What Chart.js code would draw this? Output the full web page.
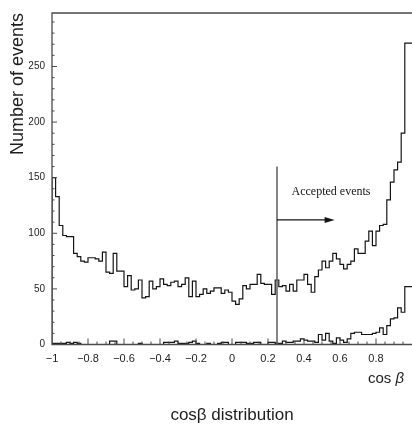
<!DOCTYPE html>
<html>
<head>
<meta charset="utf-8">
<title>cosβ distribution</title>
<script src="https://cdn.jsdelivr.net/npm/chart.js@4.4.1/dist/chart.umd.min.js"></script>
<style>
  html, body { margin: 0; padding: 0; background: #fff; }
  canvas { display: block; }
</style>
</head>
<body>
<canvas id="cosChart" width="412" height="424"></canvas>
<script>
/* cos β histogram: all events, the small second sample, and the acceptance cut. */

const BIN_LOW = -1;
const BIN_WIDTH = 0.02;

// 100 bins from -1 to 1
const allEvents = [
    142, 150, 133, 107, 98, 97, 97, 82, 79, 75,
    74, 78, 78, 77, 75, 83, 65, 64, 82, 66,
    66, 52, 62, 49, 50, 58, 42, 43, 57, 50,
    52, 59, 54, 53, 56, 57, 52, 54, 60, 43,
    57, 43, 45, 50, 46, 48, 51, 51, 46, 49,
    47, 39, 36, 41, 53, 50, 54, 54, 63, 55,
    54, 54, 45, 58, 52, 53, 48, 54, 48, 58,
    58, 63, 54, 47, 61, 67, 75, 69, 75, 82,
    77, 72, 68, 72, 75, 86, 82, 82, 93, 102,
    89, 102, 107, 108, 130, 146, 157, 164, 190, 271,
];
const otherEvents = [
    0, 1, 1, 1, 1, 2, 1, 2, 1, 0,
    0, 0, 0, 0, 0, 0, 0, 3, 3, 0,
    0, 0, 0, 0, 0, 1, 0, 0, 0, 0,
    0, 0, 2, 2, 2, 3, 1, 1, 1, 2,
    3, 1, 0, 0, 1, 0, 0, 1, 2, 2,
    0, 0, 2, 2, 2, 1, 1, 2, 2, 0,
    0, 2, 2, 1, 1, 3, 2, 2, 3, 3,
    5, 4, 3, 3, 2, 9, 4, 10, 3, 1,
    6, 4, 2, 5, 10, 11, 11, 9, 9, 9,
    10, 11, 15, 9, 17, 23, 24, 33, 29, 52,
];

const xTicks = [-1, -0.8, -0.6, -0.4, -0.2, 0, 0.2, 0.4, 0.6, 0.8];
const yTicks = [0, 50, 100, 150, 200, 250];

// acceptance cut, in data units
const CUT = { x: 0.25, top: 160, arrowTo: 0.57, arrowY: 112, labelX: 0.55, labelY: 137 };

const INK = { line: '#151515', frame: '#4a4a4a', cut: '#5c5c5c', text: '#1e1e1e' };
const SANS = "'Liberation Sans', Arial, Helvetica, sans-serif";
const SERIF = "'Liberation Serif', 'Times New Roman', serif";

function histPoints(counts) {
    const pts = [{ x: BIN_LOW, y: 0 }];
    counts.forEach((c, i) => pts.push({ x: BIN_LOW + i * BIN_WIDTH, y: c }));
    pts.push({ x: BIN_LOW + counts.length * BIN_WIDTH, y: counts[counts.length - 1] });
    return pts;
}

const fmt = (v) => (v < 0 ? '\u2212' : '') + Math.abs(Math.round(v * 10) / 10);

const framePlugin = {
    id: 'frame',
    afterDatasetsDraw(chart) {
        const { ctx, chartArea: a, scales: { x, y } } = chart;
        ctx.save();

        // frame, ticks pointing inwards
        ctx.strokeStyle = INK.frame;
        ctx.lineWidth = 1.3;
        ctx.beginPath();
        ctx.moveTo(a.right, a.top);
        ctx.lineTo(a.left, a.top);
        ctx.lineTo(a.left, a.bottom);
        ctx.lineTo(a.right, a.bottom);
        ctx.stroke();

        ctx.lineWidth = 1;
        ctx.beginPath();
        for (let i = 1; i < 40; i++) {
            const px = x.getPixelForValue(-1 + i * 0.05);
            ctx.moveTo(px, a.bottom);
            ctx.lineTo(px, a.bottom - (i % 4 === 0 ? 6 : 3));
        }
        for (let v = 10; v < y.max; v += 10) {
            const py = y.getPixelForValue(v);
            ctx.moveTo(a.left, py);
            ctx.lineTo(a.left + (v % 50 === 0 ? 5 : 2.5), py);
        }
        ctx.stroke();

        // the cut and its arrow
        const cx = x.getPixelForValue(CUT.x);
        ctx.strokeStyle = INK.cut;
        ctx.lineWidth = 1.5;
        ctx.beginPath();
        ctx.moveTo(cx, y.getPixelForValue(0));
        ctx.lineTo(cx, y.getPixelForValue(CUT.top));
        ctx.stroke();

        const tip = x.getPixelForValue(CUT.arrowTo);
        const ay = y.getPixelForValue(CUT.arrowY);
        ctx.strokeStyle = INK.line;
        ctx.lineWidth = 1.2;
        ctx.beginPath();
        ctx.moveTo(cx, ay);
        ctx.lineTo(tip - 8, ay);
        ctx.stroke();
        ctx.fillStyle = INK.line;
        ctx.beginPath();
        ctx.moveTo(tip, ay);
        ctx.lineTo(tip - 10, ay - 3);
        ctx.lineTo(tip - 10, ay + 3);
        ctx.closePath();
        ctx.fill();

        ctx.font = `12px ${SERIF}`;
        ctx.textAlign = 'center';
        ctx.textBaseline = 'middle';
        ctx.fillText('Accepted events', x.getPixelForValue(CUT.labelX), y.getPixelForValue(CUT.labelY));

        // x title: "cos" upright, β in italic
        ctx.fillStyle = INK.text;
        ctx.textBaseline = 'alphabetic';
        ctx.textAlign = 'left';
        ctx.font = `15px ${SANS}`;
        const w1 = ctx.measureText('cos ').width;
        ctx.font = `italic 15px ${SANS}`;
        const w2 = ctx.measureText('\u03b2').width;
        const x0 = a.right - 8 - w1 - w2;
        ctx.font = `15px ${SANS}`;
        ctx.fillText('cos ', x0, 383);
        ctx.font = `italic 15px ${SANS}`;
        ctx.fillText('\u03b2', x0 + w1, 383);
        ctx.restore();
    },
};

const histStyle = { borderColor: INK.line, borderWidth: 1.2, pointRadius: 0, stepped: 'after', fill: false, tension: 0 };

new Chart(document.getElementById('cosChart'), {
    type: 'line',
    data: {
        datasets: [
            { label: 'all events', data: histPoints(allEvents), ...histStyle },
            { label: 'second sample', data: histPoints(otherEvents), ...histStyle },
        ],
    },
    options: {
        responsive: false, animation: false, devicePixelRatio: 1, events: [],
        layout: { padding: { top: 7, left: 0, right: 0, bottom: 0 } },
        plugins: {
            legend: { display: false },
            tooltip: { enabled: false },
            title: {
                display: true, text: 'cosβ distribution', position: 'bottom', fullSize: false,
                color: INK.text, padding: 0,
                font: { family: SANS, size: 17, weight: 'normal', lineHeight: 1 },
            },
        },
        scales: {
            x: {
                type: 'linear', min: -1, max: 1,
                grid: { display: false, drawTicks: false }, border: { display: false },
                afterBuildTicks: (s) => { s.ticks = xTicks.map((v) => ({ value: v })); },
                afterFit: (s) => { s.height = 62.5; },
                ticks: {
                    autoSkip: false, maxRotation: 0, padding: 8, color: INK.text,
                    font: { family: SANS, size: 11 }, callback: (v) => fmt(v),
                },
            },
            y: {
                type: 'linear', min: 0, max: Math.max(...allEvents) * 1.1,
                grid: { display: false, drawTicks: false }, border: { display: false },
                afterBuildTicks: (s) => { s.ticks = yTicks.map((v) => ({ value: v })); },
                afterFit: (s) => { s.width = 52; },
                ticks: { padding: 7, color: INK.text, font: { family: SANS, size: 10 } },
                title: {
                    display: true, text: 'Number of events', align: 'end', color: INK.text,
                    padding: { top: 7, bottom: 0 }, font: { family: SANS, size: 18 },
                },
            },
        },
    },
    plugins: [framePlugin],
});
</script>
</body>
</html>
